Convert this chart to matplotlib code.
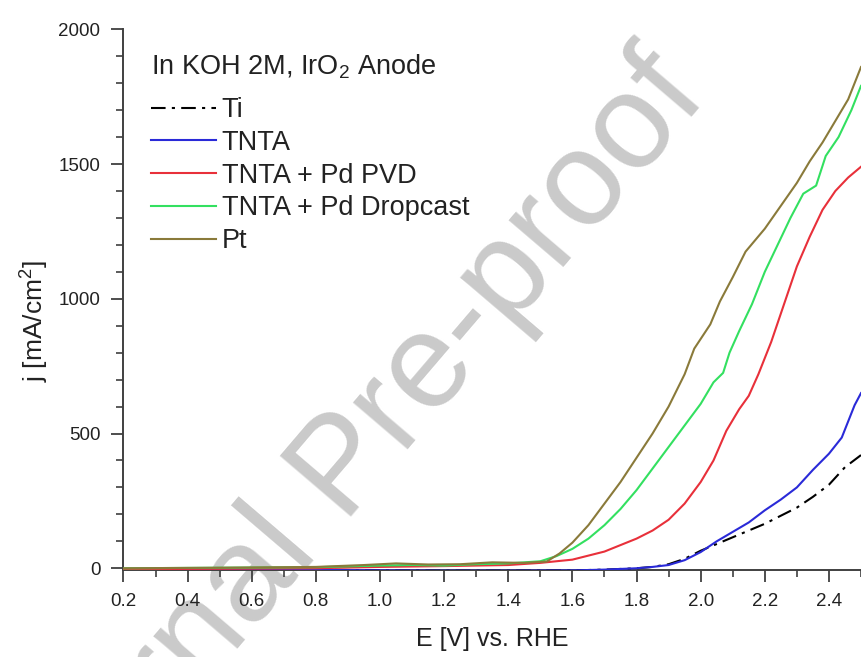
import numpy as np
import matplotlib
matplotlib.use('Agg')
import matplotlib.pyplot as plt
from matplotlib.ticker import MultipleLocator, FormatStrFormatter

plt.rcParams['font.family'] = ['Liberation Sans', 'DejaVu Sans']
plt.rcParams['mathtext.fontset'] = 'custom'
plt.rcParams['mathtext.rm'] = 'Liberation Sans'
plt.rcParams['mathtext.it'] = 'Liberation Sans:italic'

# Polarisation curves (E in V vs. RHE, j in mA/cm2)
E_ti = [0.2, 0.5, 0.8, 1.0, 1.2, 1.4, 1.6, 1.7, 1.8, 1.85, 1.9, 1.95, 2.0,
        2.05, 2.1, 2.15, 2.2, 2.25, 2.3, 2.35, 2.4, 2.45, 2.5]
j_ti = [-3, -3, -5, -8, -9, -9, -8, -5, 0, 5, 15, 35, 65,
        90, 115, 140, 165, 195, 225, 265, 310, 375, 420]

E_tnta = [0.2, 0.5, 0.8, 1.0, 1.2, 1.4, 1.6, 1.7, 1.8, 1.85, 1.9, 1.95, 2.0,
          2.05, 2.1, 2.15, 2.2, 2.25, 2.3, 2.35, 2.4, 2.44, 2.46, 2.48, 2.5]
j_tnta = [-5, -5, -6, -8, -9, -9, -8, -5, 0, 5, 12, 30, 60,
          100, 135, 170, 215, 255, 300, 365, 425, 485, 545, 605, 650]

E_pvd = [0.2, 0.5, 0.8, 1.0, 1.2, 1.4, 1.5, 1.6, 1.7, 1.8, 1.85, 1.9, 1.95,
         2.0, 2.04, 2.08, 2.12, 2.15, 2.18, 2.22, 2.26, 2.3, 2.34, 2.38,
         2.42, 2.46, 2.5]
j_pvd = [-3, -2, 0, 5, 8, 12, 20, 32, 62, 110, 140, 180, 240,
         320, 400, 510, 590, 640, 720, 840, 980, 1120, 1230, 1330,
         1400, 1450, 1490]

E_drop = [0.2, 0.5, 0.8, 1.0, 1.1, 1.2, 1.3, 1.4, 1.5, 1.55, 1.6, 1.65, 1.7,
          1.75, 1.8, 1.85, 1.9, 1.95, 2.0, 2.04, 2.07, 2.09, 2.12, 2.16, 2.2,
          2.24, 2.28, 2.32, 2.36, 2.39, 2.43, 2.47, 2.5]
j_drop = [0, 2, 4, 10, 12, 10, 15, 18, 26, 45, 72, 110, 160,
          220, 290, 370, 450, 530, 610, 690, 725, 800, 880, 980, 1100,
          1200, 1300, 1390, 1420, 1530, 1600, 1700, 1790]

E_pt = [0.2, 0.5, 0.8, 0.95, 1.05, 1.15, 1.25, 1.35, 1.45, 1.52, 1.56, 1.6,
        1.65, 1.7, 1.75, 1.8, 1.85, 1.9, 1.95, 1.98, 2.03, 2.06, 2.1, 2.14,
        2.2, 2.25, 2.3, 2.34, 2.38, 2.42, 2.46, 2.5]
j_pt = [0, 2, 5, 12, 18, 14, 15, 22, 20, 25, 55, 95,
        160, 240, 320, 410, 500, 600, 720, 815, 905, 990, 1080, 1175,
        1260, 1345, 1430, 1510, 1580, 1660, 1740, 1860]

labels = ["Ti", "TNTA", "TNTA + Pd PVD", "TNTA + Pd Dropcast", "Pt"]
colors = ["black", "#2a2ad8", "#e8303a", "#33e060", "#8a7a3a"]

fig = plt.figure(figsize=(8.61, 6.57), dpi=100)
ax = fig.add_axes([0.1434, 0.1326, 0.8566, 0.8228])

series = [(E_ti, j_ti), (E_tnta, j_tnta), (E_pvd, j_pvd), (E_drop, j_drop), (E_pt, j_pt)]
for (E, j), lab, col in zip(series, labels, colors):
    ls = (0, (7, 3, 1.5, 3)) if lab == "Ti" else "-"
    ax.plot(E, j, color=col, lw=1.5, ls=ls, label=lab, zorder=3)

ax.set_xlim(0.2, 2.5)
ax.set_ylim(-6, 2000)
ax.xaxis.set_major_locator(MultipleLocator(0.2))
ax.xaxis.set_minor_locator(MultipleLocator(0.1))
ax.yaxis.set_major_locator(MultipleLocator(500))
ax.yaxis.set_minor_locator(MultipleLocator(100))
ax.xaxis.set_major_formatter(FormatStrFormatter('%.1f'))

for side in ['top', 'right']:
    ax.spines[side].set_visible(False)
for side in ['left', 'bottom']:
    ax.spines[side].set_color('#404040')
    ax.spines[side].set_linewidth(1.4)

ax.tick_params(which='major', length=8.6, width=1.3, color='#404040',
               labelsize=13.5, pad=8, labelcolor='#222222')
ax.tick_params(which='minor', length=5, width=1.2, color='#404040')

ax.set_xlabel("E [V] vs. RHE", fontsize=18, color='#222222', labelpad=12)
ax.set_ylabel("j [mA/cm$^2$]", fontsize=19, color='#222222')
ax.yaxis.set_label_coords(-0.098, 0.46)

leg = ax.legend(loc='upper left', bbox_to_anchor=(0.012, 0.992), frameon=False,
                title="In KOH 2M, IrO$_2$ Anode", fontsize=19.5, title_fontsize=19.5,
                handlelength=2.4, handletextpad=0.2, labelspacing=0.25,
                borderpad=0.2, alignment='left')
leg._legend_box.sep = 11.5  # a bit more room under the title
for t in leg.get_texts():
    t.set_color('#222222')
leg.get_title().set_color('#222222')

# "Journal Pre-proof" watermark behind the curves
ax.text(0.40, 0.285, "Journal Pre-proof", transform=fig.transFigure,
        fontsize=97, color='#cacaca', rotation=49.5, ha='center', va='center',
        rotation_mode='anchor', zorder=1, clip_on=False)

fig.savefig("out.png", dpi=100)
